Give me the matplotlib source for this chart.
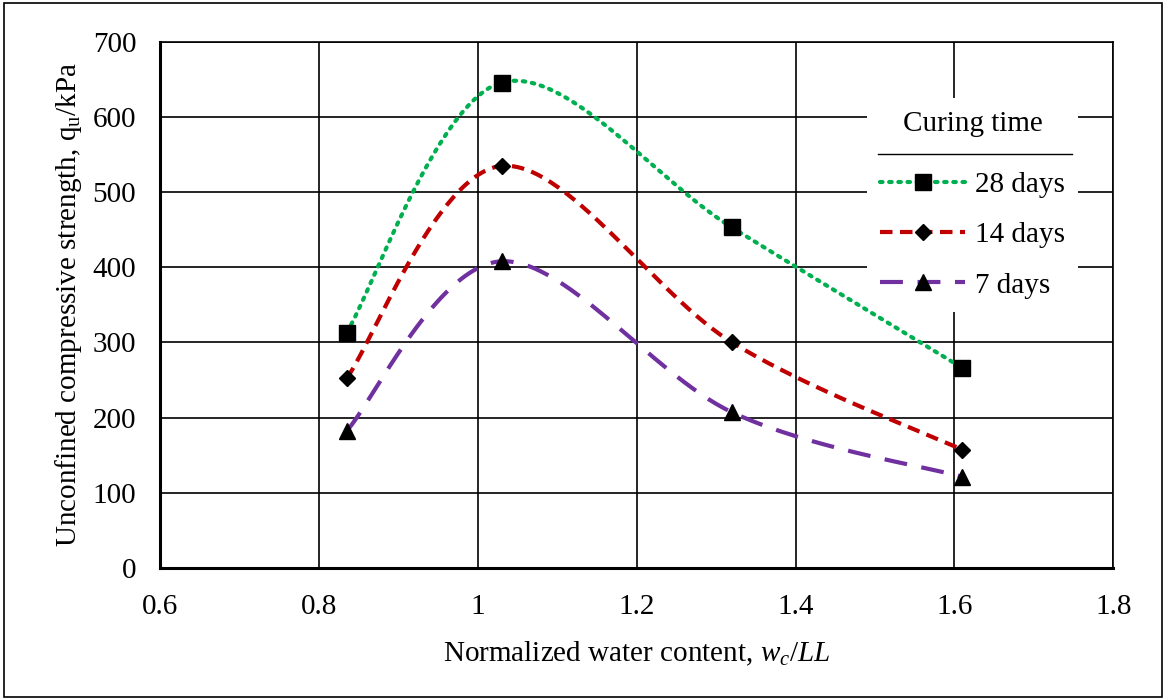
import matplotlib
matplotlib.use("Agg")
import matplotlib.pyplot as plt
import numpy as np
from matplotlib.patches import Rectangle
from matplotlib.lines import Line2D

# data
water_content = [0.835, 1.03, 1.32, 1.61]
q_28 = [313, 646, 453, 266]
q_14 = [252, 535, 300, 157]
q_7 = [182, 408, 207, 121]
labels = ["28 days", "14 days", "7 days"]


def smooth(x, y, n=60):
    # Excel-like smoothed line: cubic Bezier segments with Catmull-Rom control points
    p = np.column_stack([x, y]).astype(float)
    p = np.vstack([p[0], p, p[-1]])
    t = np.linspace(0, 1, n)[:, None]
    out = []
    for i in range(1, len(p) - 2):
        p0, p1, p2, p3 = p[i - 1], p[i], p[i + 1], p[i + 2]
        c1 = p1 + (p2 - p0) / 6
        c2 = p2 - (p3 - p1) / 6
        seg = ((1 - t) ** 3) * p1 + 3 * ((1 - t) ** 2) * t * c1 + 3 * (1 - t) * t ** 2 * c2 + t ** 3 * p2
        out.append(seg)
    out = np.vstack(out)
    return out[:, 0], out[:, 1]


plt.rcParams['font.family'] = ['Liberation Serif', 'DejaVu Serif']
plt.rcParams['mathtext.fontset'] = 'custom'
plt.rcParams['mathtext.rm'] = 'Liberation Serif'
plt.rcParams['mathtext.it'] = 'Liberation Serif:italic'

fs = 21

fig = plt.figure(figsize=(11.67, 7), dpi=100)
ax = fig.add_axes([0.137, 0.189, 0.817, 0.751])

styles = [
    dict(color="#00B050", ls=(0, (0.6, 1.6)), marker="s", ms=11, lw=3, cap="round"),
    dict(color="#C00000", ls=(0, (3, 1.8)), marker="D", ms=8, lw=3, cap="butt"),
    dict(color="#7030A0", ls=(0, (5.5, 3.5)), marker="^", ms=11, lw=3, cap="butt"),
]

handles = []
for q, lab, st in zip([q_28, q_14, q_7], labels, styles):
    xs, ys = smooth(water_content, q)
    ax.plot(xs, ys, color=st["color"], ls=st["ls"], lw=st["lw"], zorder=3,
            dash_capstyle=st["cap"])
    ax.plot(water_content, q, ls="none", marker=st["marker"], ms=st["ms"], color="black", zorder=4)
    handles.append(Line2D([], [], color=st["color"], ls=st["ls"], lw=st["lw"],
                          marker=st["marker"], ms=st["ms"], mfc="black", mec="black",
                          dash_capstyle=st["cap"], label=lab))

ax.set_xlim(0.6, 1.8)
ax.set_ylim(0, 700)
ax.set_xticks([0.6, 0.8, 1.0, 1.2, 1.4, 1.6, 1.8])
ax.set_xticklabels(["0.6", "0.8", "1", "1.2", "1.4", "1.6", "1.8"])
ax.set_yticks(range(0, 701, 100))
ax.grid(True, color="black", lw=1.2)
ax.set_axisbelow(True)
ax.tick_params(length=0, labelsize=fs)
ax.tick_params(axis="y", pad=17)
ax.tick_params(axis="x", pad=19)
for s in ["top", "right"]:
    ax.spines[s].set_linewidth(1.2)
for s in ["left", "bottom"]:
    ax.spines[s].set_linewidth(2.2)

ax.set_xlabel("Normalized water content, $\\mathit{w_c/LL}$", fontsize=fs, labelpad=14)
ax.set_ylabel("Unconfined compressive strength, q$_\\mathrm{u}$/kPa", fontsize=fs, labelpad=6)

leg = ax.legend(handles=handles, title="Curing time", loc="upper left",
                bbox_to_anchor=(0.742, 0.894), fontsize=fs, title_fontsize=fs,
                frameon=True, fancybox=False, handlelength=2.9, labelspacing=0.82,
                borderpad=0.45, handletextpad=0.35, borderaxespad=0)
leg.get_frame().set_facecolor("white")
leg.get_frame().set_edgecolor("none")
leg.get_frame().set_alpha(1)
leg._legend_box.sep = 25
# legend sits above the grid but under the curves
leg.set_zorder(2.5)

# line under the legend title
ax.plot([0.753, 0.957], [0.787, 0.787], transform=ax.transAxes, color="black", lw=1, zorder=2.6,
        clip_on=False)

# outer frame around the figure
fig.patches.append(Rectangle((0.003, 0.004), 0.993, 0.992, transform=fig.transFigure,
                             fill=False, edgecolor="black", lw=1.2))

fig.savefig("out.png", dpi=100)
